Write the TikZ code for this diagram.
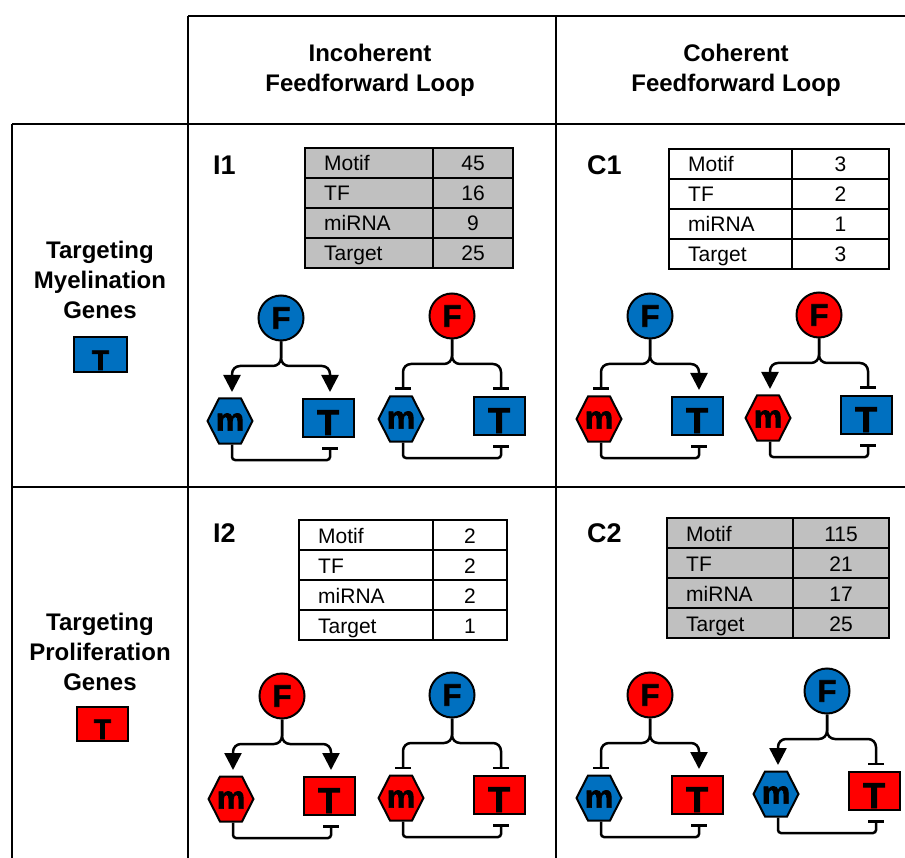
\documentclass[tikz,border=0pt]{standalone}
\usepackage{fontspec}
\setmainfont{Liberation Sans}
\newfontfamily\heavy{Liberation Sans}[FakeBold=2.2]
\usetikzlibrary{arrows.meta}
\definecolor{myblue}{RGB}{0,112,192}
\definecolor{myred}{RGB}{255,0,0}
\definecolor{tgray}{RGB}{192,192,192}
\tikzset{
  gridline/.style={line width=2.6pt},
  tline/.style={line width=2pt},
  conn/.style={line width=2.5pt, rounded corners=8pt},
  bconn/.style={line width=2.5pt, rounded corners=3pt},
  act/.style={-{Triangle[length=17pt,width=17pt]}},
  inh/.style={-{Bar[width=16pt]}},
  fnode/.style={circle, draw, line width=2pt, minimum size=45pt, inner sep=0pt,
    font=\heavy\bfseries\fontsize{31}{31}\selectfont},
  hexs/.style={draw, line width=2pt, line join=miter},
  mlabel/.style={minimum width=45pt, minimum height=45pt, inner sep=0pt, outer sep=0pt,
    font=\heavy\bfseries\fontsize{32}{32}\selectfont},
  tnode/.style={draw, line width=2pt, minimum width=51pt, minimum height=38pt, inner sep=0pt, outer sep=0pt},
  tlabel/.style={inner sep=0pt, anchor=base, font=\heavy\bfseries\fontsize{36}{36}\selectfont},
  head/.style={align=center, font=\bfseries\fontsize{24}{30}\selectfont},
  cell/.style={inner sep=0pt, font=\fontsize{21}{21}\selectfont},
  tag/.style={inner sep=0pt, anchor=base west, font=\bfseries\fontsize{27}{27}\selectfont},
}
% feedforward loop motif: id, dx, dy, Fcol, mcol, Tcol, tip to m, tip to T
\newcommand\ffl[8]{%
\begin{scope}[shift={(#2,#3)}]
  \node[fnode, fill=#4] (#1F) at (281,318) {F};
  \draw[hexs, fill=#5] (207.5,421) -- (219,398.5) -- (241,398.5) -- (252.5,421) -- (241,443.5) -- (219,443.5) -- cycle;
  \node[mlabel] (#1m) at (230,422) {m};
  \node[tnode, fill=#6] (#1T) at (328,418) {};
  \node[tlabel] (#1t) at ([yshift=2pt]#1T.south) {T};
  \coordinate (#1h) at (281,366);
  \coordinate (#1a) at (232,392);
  \coordinate (#1b) at (330,392);
  \coordinate (#1c) at (232,460);
  \coordinate (#1d) at (330,460);
  \coordinate (#1e) at (330,447);
  \draw[conn,#7] (#1F.south) -- (#1F.south |- #1h) -- (#1a |- #1h) -- (#1a);
  \draw[conn,#8] (#1F.south) -- (#1F.south |- #1h) -- (#1b |- #1h) -- (#1b);
  \draw[bconn,inh] (#1c |- #1m.south) -- (#1c) -- (#1d) -- (#1e);
\end{scope}}
% table: id, origin, split, width, fill, values
\newcommand\tbl[9]{%
\begin{scope}[shift={(#2)}]
  \filldraw[tline, fill=#5] (0,0) rectangle (#4,120);
  \draw[tline] (#3,0) -- (#3,120);
  \foreach \r in {30,60,90} \draw[tline] (0,\r) -- (#4,\r);
  \node[cell, anchor=base west] (#1k1) at (19,23) {Motif};
  \node[cell, anchor=base west] (#1k2) at (19,53) {TF};
  \node[cell, anchor=base west] (#1k3) at (19,83) {miRNA};
  \node[cell, anchor=base west] (#1k4) at (19,113) {Target};
  \node[cell, anchor=base] (#1v1) at ({(#3+#4)/2},23) {#6};
  \node[cell, anchor=base] (#1v2) at ({(#3+#4)/2},53) {#7};
  \node[cell, anchor=base] (#1v3) at ({(#3+#4)/2},83) {#8};
  \node[cell, anchor=base] (#1v4) at ({(#3+#4)/2},113) {#9};
\end{scope}}
\begin{document}
\begin{tikzpicture}[x=1pt,y=-1pt]
\useasboundingbox (0,0) rectangle (905,858);
\fill[white] (0,0) rectangle (905,858);
% grid
\draw[gridline] (188,16) -- (905,16);
\draw[gridline] (188,16) -- (188,858);
\draw[gridline] (556,16) -- (556,858);
\draw[gridline] (12,124) -- (905,124);
\draw[gridline] (12,124) -- (12,858);
\draw[gridline] (12,487) -- (905,487);
% headers
\node[head] (hI) at (370,70) {Incoherent\\Feedforward Loop};
\node[head] (hC) at (736,70) {Coherent\\Feedforward Loop};
\node[head] (rM) at (100,280) {Targeting\\Myelination\\Genes};
\node[head] (rP) at (100,652) {Targeting\\Proliferation\\Genes};
% legend boxes
\node[tnode, fill=myblue, minimum width=53pt, minimum height=35pt] (lgB) at (100.5,354.5) {};
\node[tlabel, font=\heavy\bfseries\fontsize{28}{28}\selectfont] (lgBt) at ([yshift=2pt]lgB.south) {T};
\node[tnode, fill=myred, minimum width=51pt, minimum height=34pt] (lgR) at (102.5,724) {};
\node[tlabel, font=\heavy\bfseries\fontsize{28}{28}\selectfont] (lgRt) at ([yshift=2pt]lgR.south) {T};
% cell tags
\node[tag] (tI1) at (213,175) {I1};
\node[tag] (tC1) at (587,175) {C1};
\node[tag] (tI2) at (213,542) {I2};
\node[tag] (tC2) at (587,542) {C2};
% tables
\tbl{A}{305,148}{128}{208}{tgray}{45}{16}{9}{25}
\tbl{B}{669,149}{123}{220}{white}{3}{2}{1}{3}
\tbl{C}{299,520}{134}{208}{white}{2}{2}{2}{1}
\tbl{D}{667,518}{126}{222}{tgray}{115}{21}{17}{25}
% motifs
\ffl{p}{0}{0}{myblue}{myblue}{myblue}{act}{act}
\ffl{q}{171}{-2}{myred}{myblue}{myblue}{inh}{inh}
\ffl{r}{369}{-2}{myblue}{myred}{myblue}{inh}{act}
\ffl{s}{538}{-3}{myred}{myred}{myblue}{act}{inh}
\ffl{u}{1}{378}{myred}{myred}{myred}{act}{act}
\ffl{v}{171}{377}{myblue}{myred}{myred}{inh}{inh}
\ffl{w}{369}{377}{myred}{myblue}{myred}{inh}{act}
\ffl{z}{546}{373}{myblue}{myblue}{myred}{act}{inh}
\end{tikzpicture}
\end{document}
